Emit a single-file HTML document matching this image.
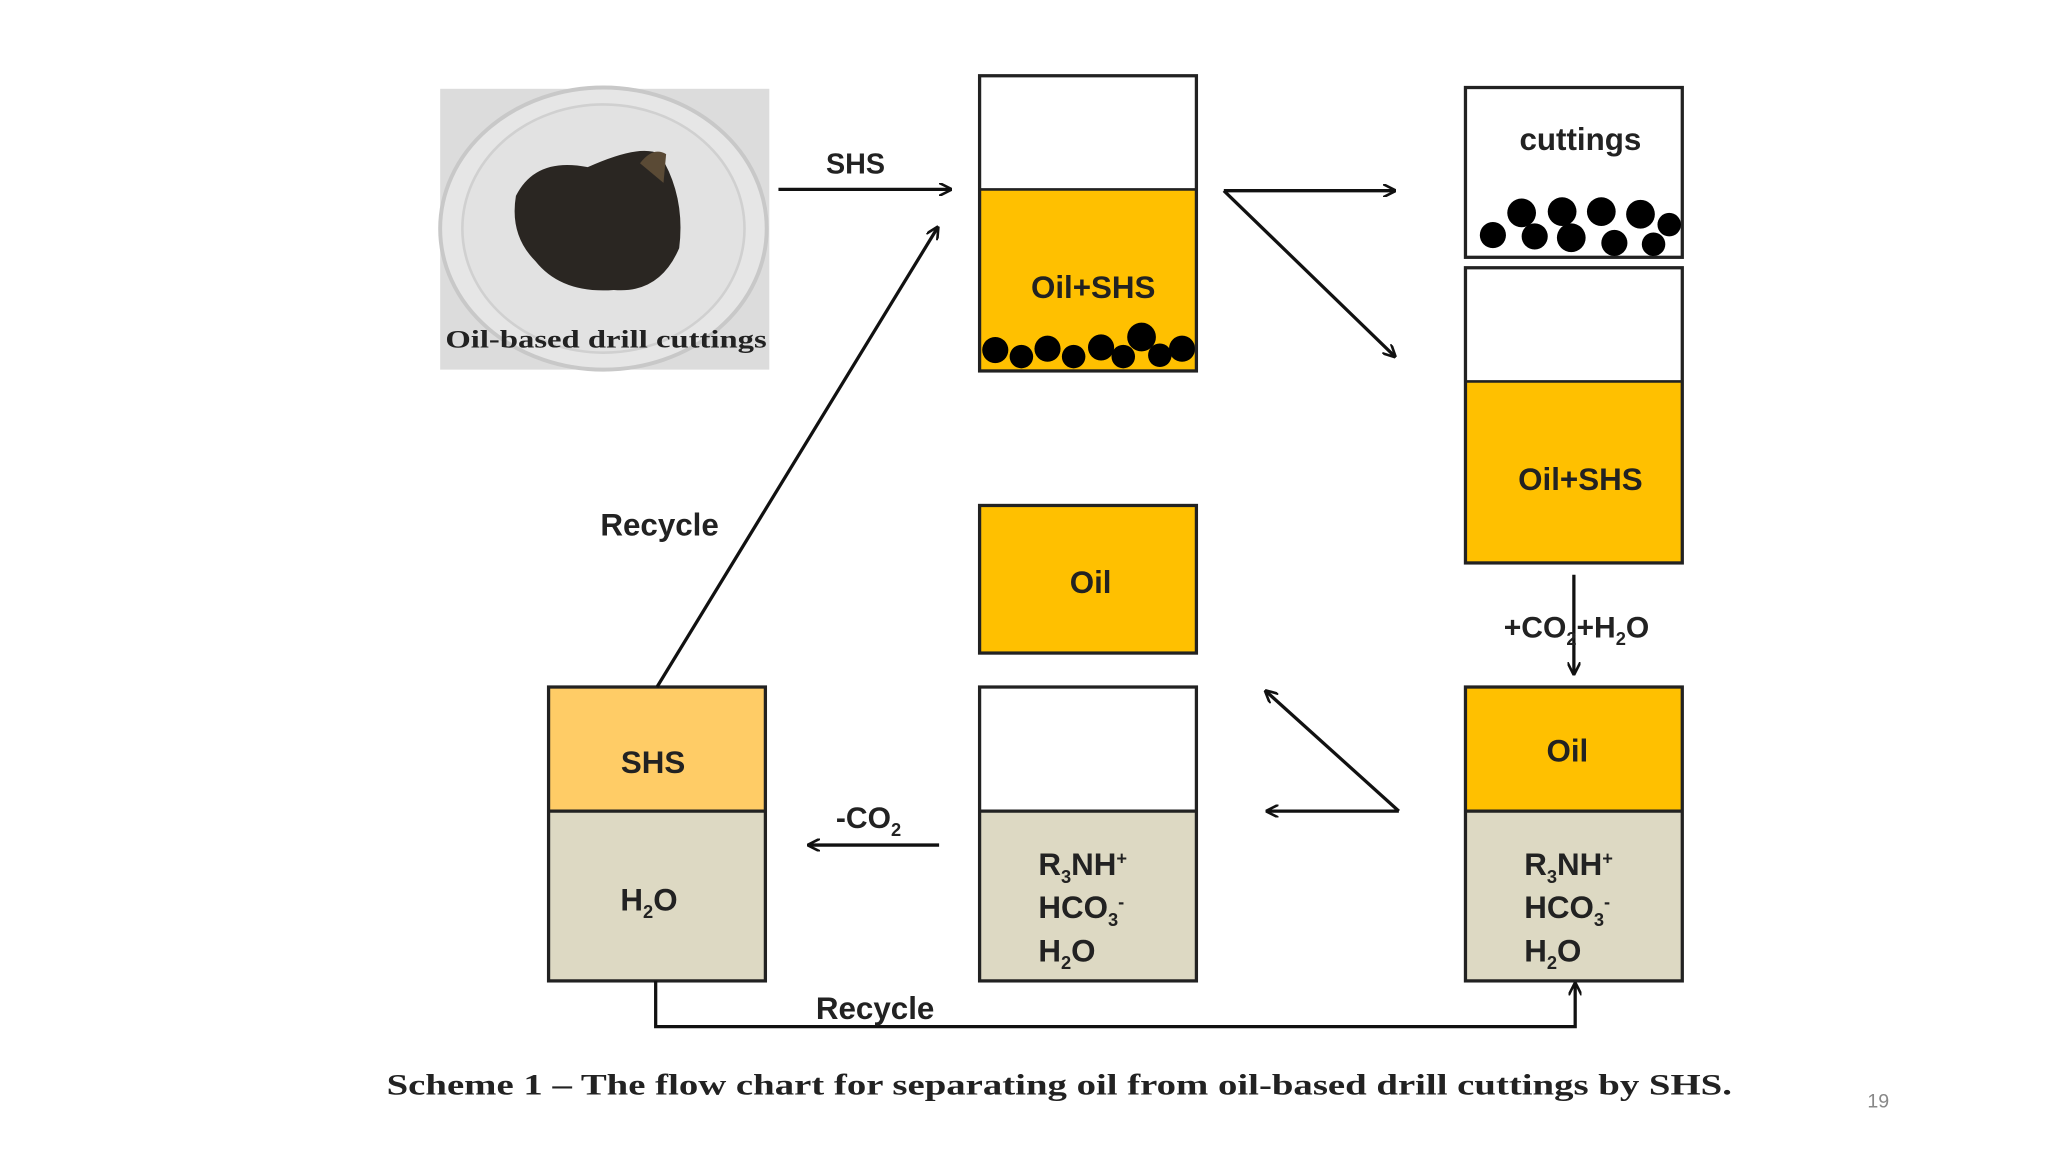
<!DOCTYPE html>
<html><head><meta charset="utf-8"><style>
html,body{margin:0;padding:0;background:#fff;}
svg{display:block}
.t{font-family:"Liberation Sans",sans-serif;font-weight:bold;fill:#222}
</style></head><body>
<svg width="2048" height="1152" viewBox="0 0 1568 882" xmlns="http://www.w3.org/2000/svg">
<defs>
<marker id="a" markerWidth="10" markerHeight="10" refX="9" refY="5" orient="auto" markerUnits="userSpaceOnUse"><path d="M0,0 L10,5 L0,10" fill="none" stroke="#111" stroke-width="2"/></marker>
</defs>
<rect width="1568" height="882" fill="#fff"/>
<rect x="337" y="68" width="252" height="215" fill="#dcdcdc"/>
<ellipse cx="462" cy="175" rx="125" ry="108" fill="#e6e6e6" stroke="#c8c8c8" stroke-width="3"/>
<ellipse cx="462" cy="175" rx="108" ry="95" fill="#e2e2e2" stroke="#d0d0d0" stroke-width="2"/>
<path d="M395,150 Q410,120 450,128 Q490,110 505,118 Q525,150 520,190 Q505,225 470,222 Q430,225 410,200 Q390,180 395,150Z" fill="#2a2622"/>
<path d="M490,125 Q500,112 510,118 L508,140Z" fill="#5a4a35"/>
<text x="341" y="266" textLength="246" lengthAdjust="spacingAndGlyphs" font-family="Liberation Serif,serif" font-weight="bold" font-size="19" fill="#222">Oil-based drill cuttings</text>
<line x1="596" y1="145" x2="728" y2="145" stroke="#111" stroke-width="2.5" marker-end="url(#a)"/>
<text x="655" y="133" text-anchor="middle" class="t" font-size="22">SHS</text>
<rect x="750" y="145" width="166" height="139" fill="#FFC000"/>
<g fill="#000">
<circle cx="762" cy="268" r="10"/><circle cx="782" cy="273" r="9"/><circle cx="802" cy="267" r="10"/><circle cx="822" cy="273" r="9"/><circle cx="843" cy="266" r="10"/><circle cx="860" cy="273" r="9"/><circle cx="874" cy="258" r="11"/><circle cx="888" cy="272" r="9"/><circle cx="905" cy="267" r="10"/>
</g>
<rect x="750" y="58" width="166" height="226" fill="none" stroke="#222" stroke-width="2.5"/>
<line x1="750" y1="145" x2="916" y2="145" stroke="#222" stroke-width="2"/>
<text x="837" y="228" text-anchor="middle" class="t" font-size="24">Oil+SHS</text>
<line x1="937" y1="146" x2="1068" y2="146" stroke="#111" stroke-width="2.5" marker-end="url(#a)"/>
<line x1="937" y1="146" x2="1068" y2="273" stroke="#111" stroke-width="2.5" marker-end="url(#a)"/>
<rect x="1122" y="67" width="166" height="130" fill="#fff" stroke="#222" stroke-width="2.5"/>
<text x="1210" y="115" text-anchor="middle" class="t" font-size="24">cuttings</text>
<g fill="#000">
<circle cx="1143" cy="180" r="10"/><circle cx="1165" cy="163" r="11"/><circle cx="1175" cy="181" r="10"/><circle cx="1196" cy="162" r="11"/><circle cx="1203" cy="182" r="11"/><circle cx="1226" cy="162" r="11"/><circle cx="1236" cy="186" r="10"/><circle cx="1256" cy="164" r="11"/><circle cx="1266" cy="187" r="9"/><circle cx="1278" cy="172" r="9"/>
</g>
<rect x="1122" y="292" width="166" height="139" fill="#FFC000"/>
<rect x="1122" y="205" width="166" height="226" fill="none" stroke="#222" stroke-width="2.5"/>
<line x1="1122" y1="292" x2="1288" y2="292" stroke="#222" stroke-width="2"/>
<text x="1210" y="375" text-anchor="middle" class="t" font-size="24">Oil+SHS</text>
<line x1="1205" y1="440" x2="1205" y2="516" stroke="#111" stroke-width="2.5" marker-end="url(#a)"/>
<text x="1207" y="488" text-anchor="middle" class="t" font-size="23">+CO<tspan font-size="14" dy="6">2</tspan><tspan dy="-6">+H</tspan><tspan font-size="14" dy="6">2</tspan><tspan dy="-6">O</tspan></text>
<rect x="750" y="387" width="166" height="113" fill="#FFC000" stroke="#222" stroke-width="2.5"/>
<text x="835" y="454" text-anchor="middle" class="t" font-size="24">Oil</text>
<rect x="1122" y="526" width="166" height="95" fill="#FFC000"/>
<rect x="1122" y="621" width="166" height="130" fill="#DDD9C3"/>
<rect x="1122" y="526" width="166" height="225" fill="none" stroke="#222" stroke-width="2.5"/>
<line x1="1122" y1="621" x2="1288" y2="621" stroke="#222" stroke-width="2.5"/>
<text x="1200" y="583" text-anchor="middle" class="t" font-size="24">Oil</text>
<g class="t" font-size="24">
<text x="1167" y="670">R<tspan font-size="14" dy="6">3</tspan><tspan dy="-6">NH</tspan><tspan font-size="14" dy="-8">+</tspan></text>
<text x="1167" y="703">HCO<tspan font-size="14" dy="6">3</tspan><tspan font-size="14" dy="-14">-</tspan></text>
<text x="1167" y="736">H<tspan font-size="14" dy="6">2</tspan><tspan dy="-6">O</tspan></text>
</g>
<rect x="750" y="526" width="166" height="95" fill="#fff"/>
<rect x="750" y="621" width="166" height="130" fill="#DDD9C3"/>
<rect x="750" y="526" width="166" height="225" fill="none" stroke="#222" stroke-width="2.5"/>
<line x1="750" y1="621" x2="916" y2="621" stroke="#222" stroke-width="2.5"/>
<g class="t" font-size="24">
<text x="795" y="670">R<tspan font-size="14" dy="6">3</tspan><tspan dy="-6">NH</tspan><tspan font-size="14" dy="-8">+</tspan></text>
<text x="795" y="703">HCO<tspan font-size="14" dy="6">3</tspan><tspan font-size="14" dy="-14">-</tspan></text>
<text x="795" y="736">H<tspan font-size="14" dy="6">2</tspan><tspan dy="-6">O</tspan></text>
</g>
<line x1="1071" y1="621" x2="969" y2="529" stroke="#111" stroke-width="2.5" marker-end="url(#a)"/>
<line x1="1071" y1="621" x2="970" y2="621" stroke="#111" stroke-width="2.5" marker-end="url(#a)"/>
<line x1="719" y1="647" x2="619" y2="647" stroke="#111" stroke-width="2.5" marker-end="url(#a)"/>
<text x="640" y="634" class="t" font-size="23">-CO<tspan font-size="14" dy="6">2</tspan></text>
<rect x="420" y="526" width="166" height="95" fill="#FFCC66"/>
<rect x="420" y="621" width="166" height="130" fill="#DDD9C3"/>
<rect x="420" y="526" width="166" height="225" fill="none" stroke="#222" stroke-width="2.5"/>
<line x1="420" y1="621" x2="586" y2="621" stroke="#222" stroke-width="2.5"/>
<text x="500" y="592" text-anchor="middle" class="t" font-size="24">SHS</text>
<text x="475" y="697" class="t" font-size="24">H<tspan font-size="14" dy="6">2</tspan><tspan dy="-6">O</tspan></text>
<line x1="503" y1="526" x2="718" y2="174" stroke="#111" stroke-width="2.5" marker-end="url(#a)"/>
<text x="505" y="410" text-anchor="middle" class="t" font-size="24">Recycle</text>
<polyline points="502,751 502,786 1206,786 1206,753" fill="none" stroke="#111" stroke-width="2.5" marker-end="url(#a)"/>
<text x="670" y="780" text-anchor="middle" class="t" font-size="24">Recycle</text>
<text x="296" y="838" textLength="1030" lengthAdjust="spacingAndGlyphs" font-family="Liberation Serif,serif" font-weight="bold" font-size="23" fill="#222">Scheme 1 – The flow chart for separating oil from oil-based drill cuttings by SHS.</text>
<text x="1438" y="848" text-anchor="middle" font-family="Liberation Sans,sans-serif" font-size="15" fill="#888">19</text>
</svg>
</body></html>
